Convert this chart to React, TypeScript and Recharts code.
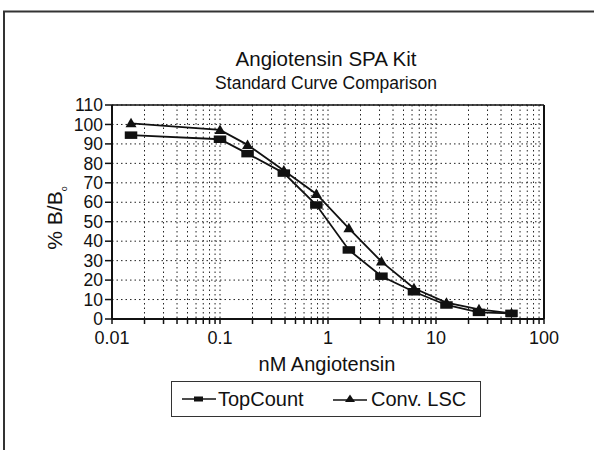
import React from "react";
import {
  LineChart,
  Line,
  XAxis,
  YAxis,
  CartesianGrid,
  ReferenceLine,
  Legend,
} from "recharts";

const concentrations = [0.015, 0.1, 0.18, 0.39, 0.78, 1.56, 3.125, 6.25, 12.5, 25, 50];
const topCountValues = [94.5, 92.4, 85, 75, 58.6, 35.5, 22, 14, 7.2, 3.4, 2.9];
const convLscValues = [100.6, 97.2, 89.5, 76.3, 64.3, 46.6, 29.5, 15.8, 8.4, 5.0, 2.9];

const xTicks = [
  0.01, 0.02, 0.03, 0.04, 0.05, 0.06, 0.07, 0.08, 0.09,
  0.1, 0.2, 0.3, 0.4, 0.5, 0.6, 0.7, 0.8, 0.9,
  1, 2, 3, 4, 5, 6, 7, 8, 9,
  10, 20, 30, 40, 50, 60, 70, 80, 90,
  100,
];
const xMajorLabels = ["0.01", "0.1", "1", "10", "100"];
const yTicks = [0, 10, 20, 30, 40, 50, 60, 70, 80, 90, 100, 110];

const titleText = "Angiotensin SPA Kit";
const subtitleText = "Standard Curve Comparison";
const xLabelText = "nM Angiotensin";
const seriesNames = ["TopCount", "Conv. LSC"];

const topCountData = concentrations.map((x, i) => ({ x, y: topCountValues[i] }));
const convLscData = concentrations.map((x, i) => ({ x, y: convLscValues[i] }));

const FONT = "'Liberation Sans', Arial, Helvetica, sans-serif";

const SquareDot = (props: any) => {
  const { cx, cy, index } = props;
  if (cx == null || cy == null) return <g key={`sq-${index}`} />;
  return <rect key={`sq-${index}`} x={cx - 6.25} y={cy - 3.75} width={12.5} height={7.5} fill="#111" />;
};

const TriangleDot = (props: any) => {
  const { cx, cy, index } = props;
  if (cx == null || cy == null) return <g key={`tr-${index}`} />;
  const pts = `${cx - 5.5},${cy + 4} ${cx + 5.5},${cy + 4} ${cx},${cy - 5.5}`;
  return <polygon key={`tr-${index}`} points={pts} fill="#111" />;
};

const formatX = (v: number) => {
  const s = String(v);
  return xMajorLabels.includes(s) ? s : "";
};

const renderLegend = () => (
  <div
    style={{
      position: "relative",
      boxSizing: "border-box",
      width: 310,
      height: 36,
      border: "1.5px solid #333",
      fontFamily: FONT,
      fontSize: 20,
      color: "#111",
      background: "#fff",
    }}
  >
    <svg width={34} height={12} style={{ position: "absolute", left: 10, top: 11 }}>
      <line x1={0} y1={6} x2={34} y2={6} stroke="#111" strokeWidth={1.6} />
      <rect x={12} y={3.5} width={9} height={5} fill="#111" />
    </svg>
    <span style={{ position: "absolute", left: 46, top: 5, lineHeight: "24px" }}>{seriesNames[0]}</span>
    <svg width={34} height={12} style={{ position: "absolute", left: 161, top: 10 }}>
      <line x1={0} y1={8} x2={34} y2={8} stroke="#111" strokeWidth={1.6} />
      <polygon points="12,10 22,10 17,2.5" fill="#111" />
    </svg>
    <span style={{ position: "absolute", left: 199, top: 5, lineHeight: "24px" }}>{seriesNames[1]}</span>
  </div>
);

const YLabel = () => (
  <text
    x={62}
    y={218}
    transform="rotate(-90, 62, 218)"
    textAnchor="middle"
    fontFamily={FONT}
    fontSize={21}
    fill="#111"
  >
    % B/B
    <tspan fontSize={9} dy={5}>o</tspan>
  </text>
);

const XLabel = () => (
  <text x={327} y={371} textAnchor="middle" fontFamily={FONT} fontSize={20} fill="#111">
    {xLabelText}
  </text>
);

export default function App() {
  return (
    <div style={{ position: "absolute", left: 0, top: 0, width: 594, height: 450, background: "#fff" }}>
      <svg width={594} height={450} style={{ position: "absolute", left: 0, top: 0 }}>
        <rect x={4} y={11.5} width={700} height={600} fill="none" stroke="#333" strokeWidth={2} />
        <text x={326} y={66} textAnchor="middle" fontFamily={FONT} fontSize={20.5} fill="#111">
          {titleText}
        </text>
        <text x={326} y={89} textAnchor="middle" fontFamily={FONT} fontSize={17.5} fill="#111">
          {subtitleText}
        </text>
      </svg>
      <div style={{ position: "absolute", left: 0, top: 0 }}>
        <LineChart
          width={594}
          height={450}
          margin={{ top: 105, right: 50, bottom: 101, left: 52 }}
        >
          <CartesianGrid stroke="#222" strokeDasharray="1.5 3" strokeWidth={1} />
          <XAxis
            dataKey="x"
            type="number"
            scale="log"
            domain={[0.01, 100]}
            allowDataOverflow
            ticks={xTicks}
            interval={0}
            tickFormatter={formatX}
            height={30}
            tickSize={5}
            tickMargin={7}
            axisLine={{ stroke: "#111", strokeWidth: 2 }}
            tickLine={{ stroke: "#111", strokeWidth: 1.5 }}
            tick={{ fontFamily: FONT, fontSize: 18, fill: "#111" }}
            label={{ content: () => <XLabel /> }}
          />
          <YAxis
            type="number"
            domain={[0, 110]}
            ticks={yTicks}
            interval={0}
            width={60}
            tickSize={7}
            tickMargin={2}
            axisLine={{ stroke: "#111", strokeWidth: 2 }}
            tickLine={{ stroke: "#111", strokeWidth: 1.5 }}
            tick={{ fontFamily: FONT, fontSize: 17.5, fill: "#111" }}
            label={{ content: () => <YLabel /> }}
          />
          <ReferenceLine y={110} stroke="#111" strokeWidth={1.5} />
          <ReferenceLine x={100} stroke="#111" strokeWidth={2} />
          <Line
            data={convLscData}
            dataKey="y"
            name={seriesNames[1]}
            type="linear"
            stroke="#111"
            strokeWidth={1.8}
            dot={TriangleDot}
            activeDot={false}
            isAnimationActive={false}
          />
          <Line
            data={topCountData}
            dataKey="y"
            name={seriesNames[0]}
            type="linear"
            stroke="#111"
            strokeWidth={1.8}
            dot={SquareDot}
            activeDot={false}
            isAnimationActive={false}
          />
          <Legend
            layout="horizontal"
            verticalAlign="middle"
            align="center"
            wrapperStyle={{ position: "absolute", left: 171, top: 381, width: 310, height: 36 }}
            content={renderLegend}
          />
        </LineChart>
      </div>
    </div>
  );
}
